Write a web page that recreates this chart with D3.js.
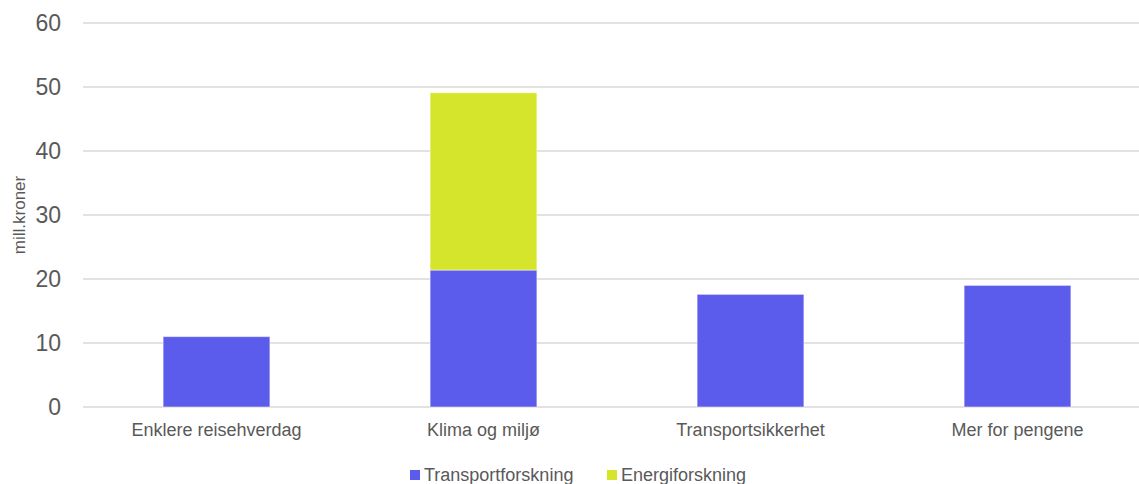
<!DOCTYPE html>
<html>
<head>
  <meta charset="UTF-8" />
  <style>
    body { margin: 0; background: #fff; font-family: "Liberation Sans", Arial, sans-serif; }
  </style>
  <script src="https://d3js.org/d3.v7.min.js"></script>
</head>
<body>
  <script>
    const categories = ["Enklere reisehverdag", "Klima og miljø", "Transportsikkerhet", "Mer for pengene"];
    const transport = [11.0, 21.4, 17.6, 19.0];
    const energi = [0, 27.7, 0, 0];
    const seriesNames = ["Transportforskning", "Energiforskning"];
    const yTicks = [0, 10, 20, 30, 40, 50, 60];
    const colors = ["#5c5cec", "#d5e52b"];

    const W = 1139, H = 484;
    const svg = d3.select("body").append("svg").attr("width", W).attr("height", H);

    const x = d3.scaleBand().domain(categories).range([83, 1151]).paddingInner(0.6).paddingOuter(0.3);
    const y = d3.scaleLinear().domain([0, 60]).range([407, 23]);

    /* grid + y ticks */
    svg.append("g")
      .selectAll("line")
      .data(yTicks)
      .join("line")
      .attr("x1", 83).attr("x2", W)
      .attr("y1", d => y(d)).attr("y2", d => y(d))
      .attr("stroke", "#d9d9d9").attr("stroke-width", 1.5);

    svg.append("g")
      .selectAll("text")
      .data(yTicks)
      .join("text")
      .attr("x", 61).attr("y", d => y(d))
      .attr("dy", "0.35em")
      .attr("text-anchor", "end")
      .attr("font-size", 23).attr("fill", "#595959")
      .text(d => d);

    svg.append("text")
      .attr("transform", `translate(25,${y(30)}) rotate(-90)`)
      .attr("text-anchor", "middle")
      .attr("font-size", 17).attr("fill", "#595959")
      .text("mill.kroner");

    /* stacked bars */
    const rows = categories.map((c, i) => ({ cat: c, Transportforskning: transport[i], Energiforskning: energi[i] }));
    const stacked = d3.stack().keys(seriesNames)(rows);

    svg.append("g")
      .selectAll("g")
      .data(stacked)
      .join("g")
      .attr("fill", (d, i) => colors[i])
      .selectAll("rect")
      .data(d => d.filter(p => p[1] > p[0]))
      .join("rect")
      .attr("x", d => x(d.data.cat))
      .attr("width", x.bandwidth())
      .attr("y", d => y(d[1]))
      .attr("height", d => y(d[0]) - y(d[1]))
      .attr("stroke", "#ffffff").attr("stroke-opacity", 0.5).attr("stroke-width", 1);

    /* category labels */
    svg.append("g")
      .selectAll("text")
      .data(categories)
      .join("text")
      .attr("x", d => x(d) + x.bandwidth() / 2)
      .attr("y", 436)
      .attr("text-anchor", "middle")
      .attr("font-size", 18).attr("fill", "#595959")
      .text(d => d);

    /* legend */
    const legend = svg.append("g");
    const legendX = [410, 607];
    seriesNames.forEach((s, i) => {
      legend.append("rect")
        .attr("x", legendX[i]).attr("y", 470)
        .attr("width", 10).attr("height", 10)
        .attr("fill", colors[i]);
      legend.append("text")
        .attr("x", legendX[i] + 14).attr("y", 481)
        .attr("font-size", 18).attr("fill", "#595959")
        .text(s);
    });
  </script>
</body>
</html>
